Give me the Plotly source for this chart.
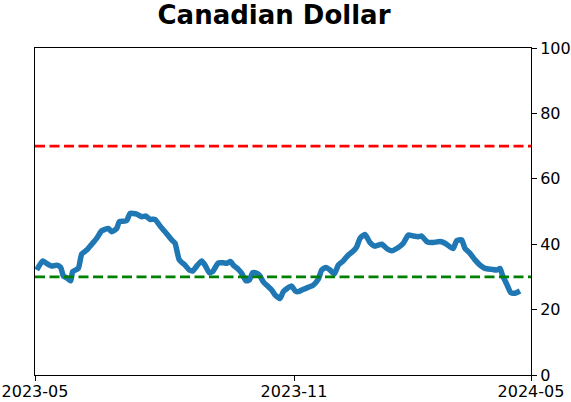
import plotly.graph_objects as go

# pixel-read positions converted to a trading-day style index (0 = 2023-05, 252 = 2024-05)
px = [36.7, 42.7, 46.7, 51.7, 56.7, 60.7, 63.3, 67.3, 70.7, 72.7, 78.3, 81.7, 86.7, 91.7, 96.7,
      101.7, 108.3, 111.7, 116.7, 119.3, 126.7, 130, 136.7, 141.7, 146, 150, 155, 160, 165,
      171.7, 175, 179.3, 185, 189.3, 192.7, 196.7, 201.7, 205, 209.3, 212.7, 218.3, 223.3,
      226.7, 230.7, 233.3, 238.3, 241.7, 246, 249.3, 252.7, 256.7, 260, 263.3, 268.3, 271.7,
      275, 280, 283.3, 287.3, 291.7, 295, 298.3, 303.3, 308.3, 313.3, 318.3, 321.7, 326, 330,
      334.3, 338.3, 343.3, 348.3, 353.3, 356.7, 360, 365, 370, 375, 381.7, 386.7, 391.7,
      398.3, 403.3, 408.3, 413.3, 418.3, 421.7, 426.7, 431.7, 440, 445, 450, 453.3, 456.7,
      461.7, 465, 470, 475, 480, 485, 491.7, 496.7, 500, 502.7, 506.7, 510.7, 515, 520]
values = [32.1, 34.9, 34.1, 33.3, 33.6, 32.9, 30.3, 29.6, 28.8, 31.6, 32.6, 37.0, 38.2, 40.0, 41.8,
          44.1, 44.8, 43.8, 44.8, 46.9, 47.2, 49.4, 49.2, 48.4, 48.6, 47.6, 47.6, 45.6, 43.8,
          41.3, 40.3, 35.2, 33.6, 32.1, 31.8, 33.3, 34.9, 33.6, 31.3, 31.6, 34.3, 34.3,
          34.2, 34.7, 33.6, 32.3, 31.1, 28.8, 29.0, 31.3, 31.1, 30.3, 28.5, 27.0, 26.0,
          24.5, 23.4, 25.5, 26.5, 27.2, 25.8, 25.5, 26.2, 26.8, 27.5, 29.3, 32.1, 32.9, 32.1,
          30.9, 33.6, 34.9, 36.7, 37.9, 39.2, 41.8, 43.0, 40.5, 39.4, 40.0, 38.7, 38.0,
          39.0, 40.3, 42.8, 42.5, 42.3, 42.5, 40.8, 40.5, 40.8, 40.3, 39.2, 38.7, 41.1,
          41.3, 38.7, 37.2, 35.2, 33.6, 32.6, 32.3, 32.1, 32.6, 30.3, 27.8, 25.2, 25.0, 25.7]
x_idx = [(p - 35) / 496 * 252 for p in px]

tick_labels = ["2023-05", "2023-11", "2024-05"]
tick_vals = [0, 131.6, 252]
upper_level = 70
lower_level = 30

fig = go.Figure()
fig.add_trace(go.Scatter(x=x_idx, y=values, mode="lines",
                         line=dict(color="#1f77b4", width=5.5, shape="spline", smoothing=0.5),
                         showlegend=False))
fig.add_trace(go.Scatter(x=[0, 252], y=[upper_level, upper_level], mode="lines",
                         line=dict(color="red", width=2.8, dash="10px,4.5px"), showlegend=False))
fig.add_trace(go.Scatter(x=[0, 252], y=[lower_level, lower_level], mode="lines",
                         line=dict(color="green", width=2.8, dash="10px,4.5px"), showlegend=False))

fig.update_layout(
    width=571, height=402,
    margin=dict(l=35, r=40, t=48, b=27, autoexpand=False),
    paper_bgcolor="white", plot_bgcolor="white",
    font=dict(family="DejaVu Sans", size=16, color="black"),
    title=dict(text="<b>Canadian Dollar</b>", x=274 / 571, xanchor="center",
               y=1 - 15 / 402, yanchor="middle", font=dict(size=26)),
)
fig.update_xaxes(range=[0, 252], tickvals=tick_vals, ticktext=tick_labels, automargin=False,
                 ticklabelstandoff=-3,
                 showgrid=False, zeroline=False, showline=True, linecolor="black",
                 linewidth=1, mirror=True, ticks="outside", ticklen=5, tickcolor="black")
fig.update_yaxes(range=[0, 100], side="right", tickvals=[0, 20, 40, 60, 80, 100], automargin=False,
                 showgrid=False, zeroline=False, showline=True, linecolor="black",
                 linewidth=1, mirror=True, ticks="outside", ticklen=5, tickcolor="black")

fig.write_html("out.html")
